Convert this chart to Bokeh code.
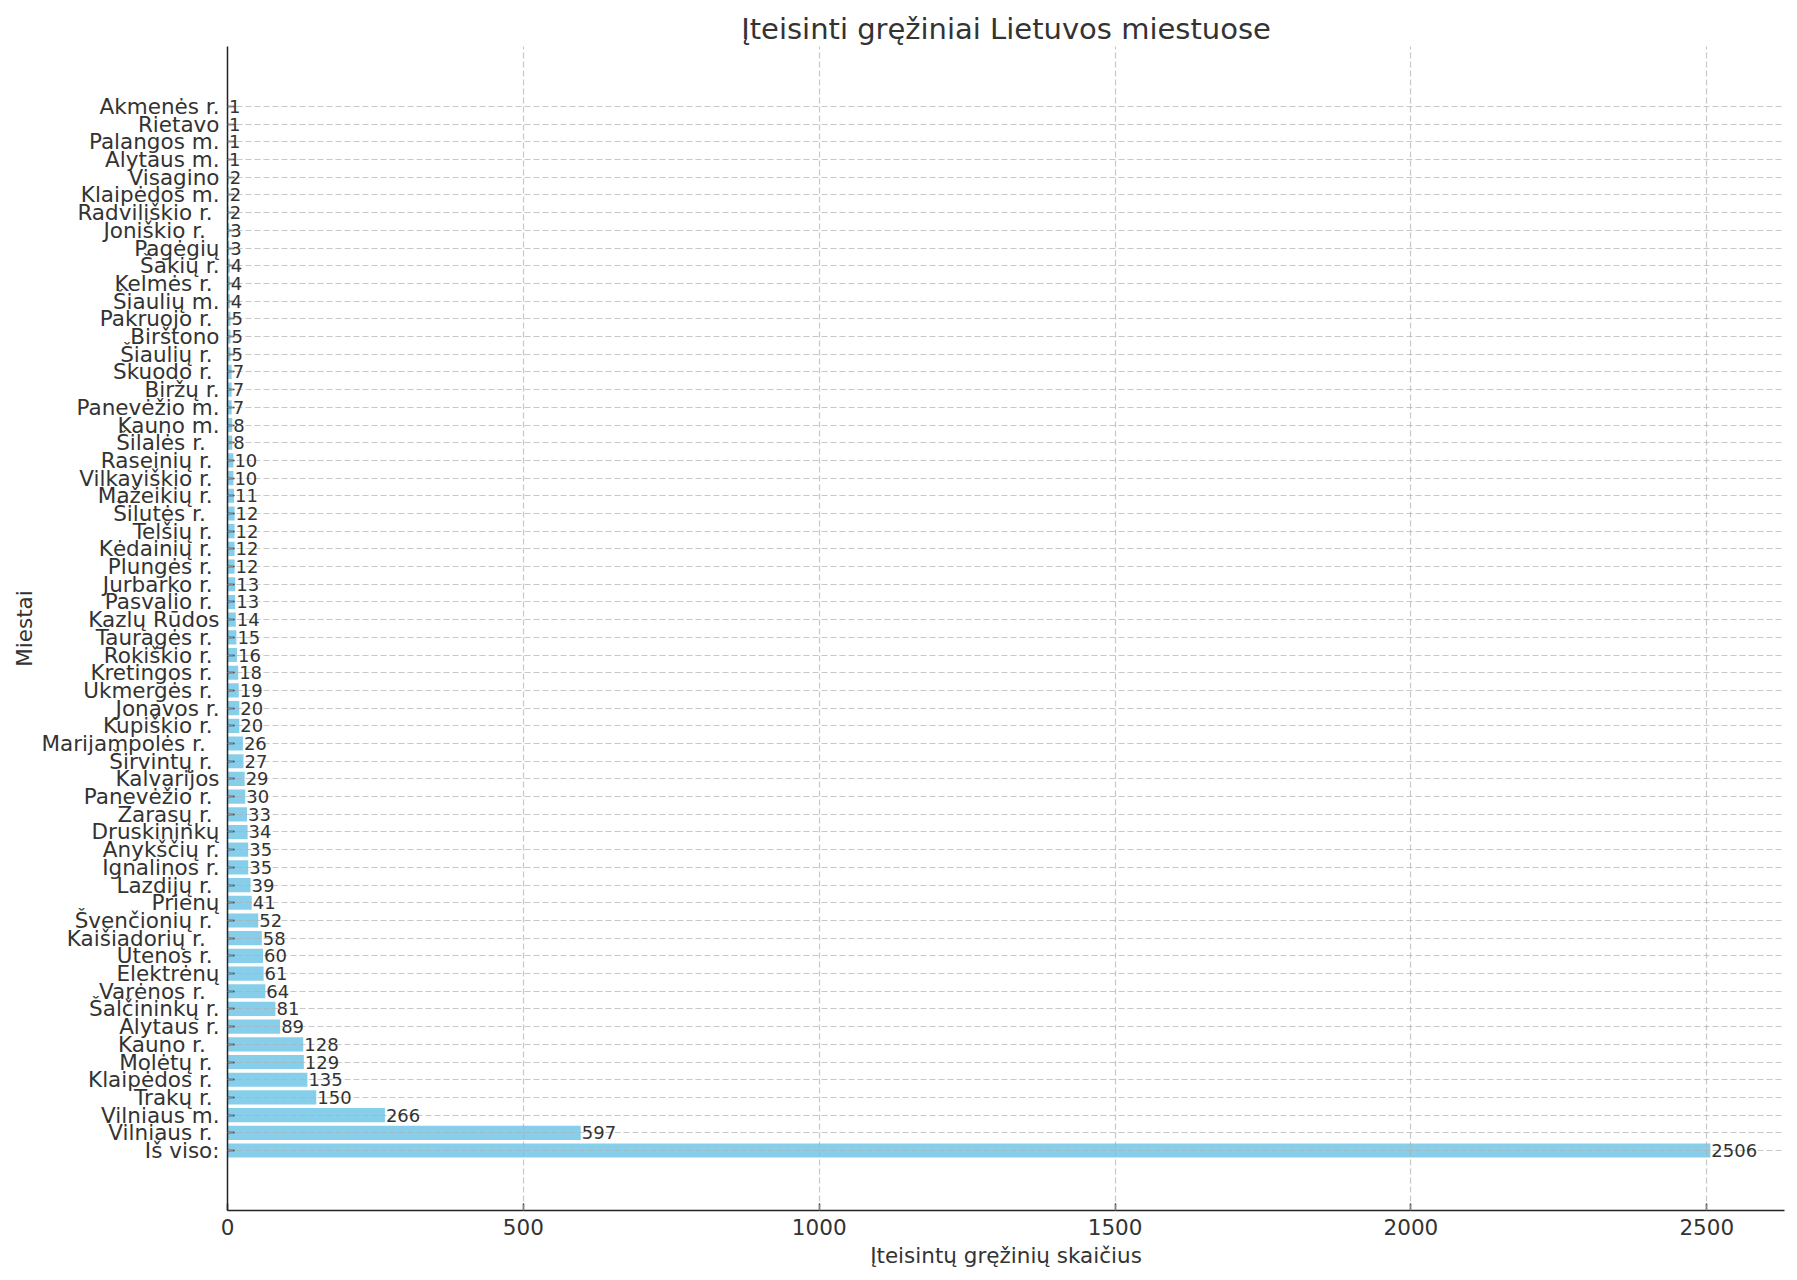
from bokeh.plotting import figure
from bokeh.models import FactorRange, Range1d, FixedTicker, ColumnDataSource
from bokeh.core.properties import value
from bokeh.embed import file_html
from bokeh.resources import INLINE

# Data (bottom of chart first)
cities = [
    "Iš viso:", "Vilniaus r. ", "Vilniaus m.", "Trakų r. ", "Klaipėdos r. ",
    "Molėtų r. ", "Kauno r.  ", "Alytaus r.", "Šalčininkų r.", "Varėnos r.  ",
    "Elektrėnų", "Utenos r. ", "Kaišiadorių r.  ", "Švenčionių r. ", "Prienų",
    "Lazdijų r. ", "Ignalinos r.", "Anykščių r.", "Druskininkų", "Zarasų r. ",
    "Panevėžio r. ", "Kalvarijos", "Širvintų r. ", "Marijampolės r.  ", "Kupiškio r. ",
    "Jonavos r.", "Ukmergės r. ", "Kretingos r. ", "Rokiškio r. ", "Tauragės r. ",
    "Kazlų Rūdos", "Pasvalio r. ", "Jurbarko r. ", "Plungės r. ", "Kėdainių r. ",
    "Telšių r. ", "Šilutės r.  ", "Mažeikių r. ", "Vilkaviškio r. ", "Raseinių r. ",
    "Šilalės r.  ", "Kauno m.", "Panevėžio m.", "Biržų r.", "Skuodo r. ",
    "Šiaulių r. ", "Birštono", "Pakruojo r. ", "Šiaulių m.", "Kelmės r. ",
    "Šakių r.", "Pagėgių", "Joniškio r.  ", "Radviliškio r. ", "Klaipėdos m.",
    "Visagino", "Alytaus m.", "Palangos m.", "Rietavo", "Akmenės r.",
]
counts = [
    2506, 597, 266, 150, 135,
    129, 128, 89, 81, 64,
    61, 60, 58, 52, 41,
    39, 35, 35, 34, 33,
    30, 29, 27, 26, 20,
    20, 19, 18, 16, 15,
    14, 13, 13, 12, 12,
    12, 12, 11, 10, 10,
    8, 8, 7, 7, 7,
    5, 5, 5, 4, 4,
    4, 3, 3, 2, 2,
    2, 1, 1, 1, 1,
]
x_ticks = [0, 500, 1000, 1500, 2000, 2500]

title = "Įteisinti gręžiniai Lietuvos miestuose"
x_label = "Įteisintų gręžinių skaičius"
y_label = "Miestai"

FONT = "DejaVu Sans"
TXT = "#333333"

src = ColumnDataSource(dict(city=cities, count=counts, label=[str(c) for c in counts]))

p = figure(
    width=1797, height=1280,
    frame_width=1557, frame_height=1164,
    y_range=FactorRange(factors=cities, range_padding=2.89, range_padding_units="absolute"),
    x_range=Range1d(0, max(counts) * 1.05),
    output_backend="svg", toolbar_location=None,
    title=title,
    min_border_left=227, min_border_right=13, min_border_top=46, min_border_bottom=70,
)
p.background_fill_color = "white"
p.border_fill_color = "white"
p.outline_line_color = None

p.hbar(y="city", left=0, right="count", height=0.8, source=src,
       fill_color="#87CEEB", line_color=None)

p.text(x="count", y="city", text="label", source=src, x_offset=1,
       text_align="left", text_baseline="middle", text_font_size="18px",
       text_font=value(FONT), text_color=TXT, level="overlay")

# Title
p.title.text_font = FONT
p.title.text_font_size = "29px"
p.title.text_font_style = "normal"
p.title.text_color = TXT
p.title.align = "center"
p.title.standoff = 2

# Axes
for ax in (p.xaxis[0], p.yaxis[0]):
    ax.axis_line_color = "#222222"
    ax.axis_line_width = 1.5
    ax.major_tick_line_color = "#222222"
    ax.major_tick_line_width = 1.5
    ax.major_tick_in = 7
    ax.major_tick_out = 0
    ax.minor_tick_in = 0
    ax.minor_tick_out = 0
    ax.major_label_text_font = FONT
    ax.major_label_text_font_size = "21.5px"
    ax.major_label_text_color = TXT
    ax.axis_label_text_font = FONT
    ax.axis_label_text_font_size = "21.5px"
    ax.axis_label_text_font_style = "normal"
    ax.axis_label_text_color = TXT

p.xaxis.ticker = FixedTicker(ticks=x_ticks)
p.xaxis.axis_label = x_label
p.xaxis.major_label_standoff = 8
p.xaxis.axis_label_standoff = 5
p.yaxis.axis_label = y_label
p.yaxis.major_label_standoff = 8
p.yaxis.axis_label_standoff = 1

# Grid
p.xgrid.ticker = FixedTicker(ticks=x_ticks)
for g in (p.xgrid[0], p.ygrid[0]):
    g.grid_line_color = "#b0b0b0"
    g.grid_line_alpha = 0.7
    g.grid_line_dash = "6 3"
    g.grid_line_width = 1.2
    g.level = "annotation"

open("out.html", "w").write(file_html(p, INLINE))
